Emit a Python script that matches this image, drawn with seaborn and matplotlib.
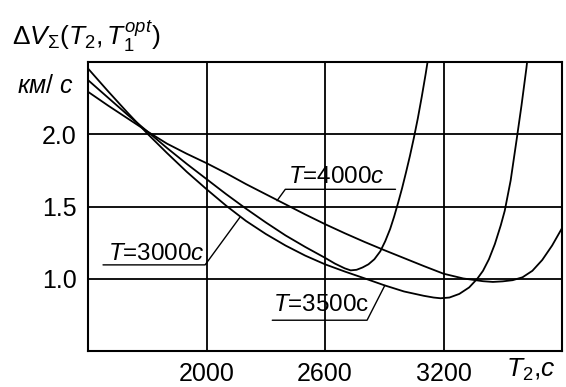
import matplotlib
matplotlib.use("Agg")
import matplotlib.pyplot as plt
import seaborn as sns
import pandas as pd

# Total velocity increment vs. second-impulse time for three transfer durations
t2_3000 = [1400, 1500, 1600, 1700, 1800, 1900, 2000, 2100, 2200, 2300, 2400, 2500,
           2600, 2650, 2700, 2730, 2760, 2790, 2820, 2850, 2880, 2905, 2930, 2950,
           2970, 2990, 3010, 3030, 3050, 3070, 3090, 3110, 3125]
dv_3000 = [2.375, 2.255, 2.135, 2.02, 1.905, 1.795, 1.69, 1.585, 1.485, 1.39, 1.30, 1.22,
           1.145, 1.105, 1.072, 1.058, 1.062, 1.078, 1.10, 1.135, 1.19, 1.26, 1.345, 1.43,
           1.525, 1.625, 1.735, 1.85, 1.975, 2.11, 2.26, 2.42, 2.55]

t2_3500 = [1400, 1500, 1600, 1700, 1800, 1900, 2000, 2100, 2200, 2300, 2400, 2500,
           2600, 2700, 2800, 2900, 3000, 3100, 3150, 3185, 3230, 3280, 3330, 3371,
           3400, 3430, 3460, 3490, 3510, 3540, 3570, 3595, 3620, 3630]
dv_3500 = [2.455, 2.30, 2.15, 2.005, 1.87, 1.74, 1.62, 1.505, 1.40, 1.31, 1.23, 1.16,
           1.10, 1.05, 1.003, 0.955, 0.912, 0.882, 0.87, 0.865, 0.87, 0.895, 0.94, 1.00,
           1.055, 1.135, 1.24, 1.37, 1.47, 1.68, 1.96, 2.20, 2.46, 2.58]

t2_4000 = [1400, 1500, 1600, 1700, 1800, 1900, 2000, 2100, 2200, 2300, 2400, 2500,
           2600, 2700, 2800, 2900, 3000, 3100, 3200, 3300, 3400, 3450, 3500, 3550,
           3600, 3650, 3700, 3750, 3800]
dv_4000 = [2.294, 2.20, 2.11, 2.02, 1.935, 1.865, 1.80, 1.73, 1.655, 1.585, 1.515, 1.445,
           1.378, 1.315, 1.255, 1.198, 1.143, 1.088, 1.035, 1.002, 0.983, 0.978, 0.982, 0.99,
           1.01, 1.055, 1.13, 1.23, 1.35]

x_ticks = [2000, 2600, 3200]
y_ticks = [1.0, 1.5, 2.0]
y_tick_labels = ["1.0", "1.5", "2.0"]

sns.set_theme(style="white")
plt.rcParams["font.family"] = ["Liberation Sans", "DejaVu Sans"]
plt.rcParams["mathtext.fontset"] = "custom"
plt.rcParams["mathtext.rm"] = "Liberation Sans"
plt.rcParams["mathtext.it"] = "Liberation Sans:italic"
plt.rcParams["mathtext.bf"] = "Liberation Sans:bold"

df = pd.concat([
    pd.DataFrame({"T2": t2_3000, "dV": dv_3000, "T": "3000"}),
    pd.DataFrame({"T2": t2_3500, "dV": dv_3500, "T": "3500"}),
    pd.DataFrame({"T2": t2_4000, "dV": dv_4000, "T": "4000"}),
])

fig = plt.figure(figsize=(5.66, 3.87), dpi=100)
ax = fig.add_axes([88 / 566, 1 - 351 / 387, (562 - 88) / 566, (351 - 62) / 387])

sns.lineplot(data=df, x="T2", y="dV", hue="T", palette=["black"] * 3,
             estimator=None, legend=False, linewidth=1.3, ax=ax, zorder=3)

ax.set_xlim(1400, 3800)
ax.set_ylim(0.5, 2.5)
ax.set_xticks(x_ticks)
ax.set_xticklabels([str(v) for v in x_ticks])
ax.set_yticks(y_ticks)
ax.set_yticklabels(y_tick_labels)
ax.tick_params(axis="both", length=0, labelsize=18, colors="black")
ax.tick_params(axis="x", pad=8)
ax.tick_params(axis="y", pad=8)
ax.grid(True, color="black", linewidth=1.3)
for s in ax.spines.values():
    s.set_color("black")
    s.set_linewidth(1.5)
ax.set_xlabel("")
ax.set_ylabel("")

# Curve labels with underline and leader
lab_kw = dict(fontsize=17.5, color="black", va="baseline", ha="left", zorder=5)
ax.text(1500, 1.131, r"$T$=3000$c$", **lab_kw)
ax.plot([1476, 1993, 2169], [1.096, 1.096, 1.425], color="black", lw=1.0, zorder=4)

ax.text(2412, 1.66, r"$T$=4000$c$", **lab_kw)
ax.plot([2957, 2399, 2357], [1.619, 1.619, 1.54], color="black", lw=1.0, zorder=4)

ax.text(2336, 0.78, r"$T$=3500c", **lab_kw)
ax.plot([2333, 2813, 2903], [0.713, 0.713, 0.954], color="black", lw=1.0, zorder=4)

# Axis captions
ax.text((506 - 88) / 474, (351 - 377) / 289, r"$T_2$,$c$", transform=ax.transAxes,
        fontsize=19, ha="left", va="baseline", color="black")
fig.text(12 / 566, 1 - 36 / 387, r"$\Delta V_{\Sigma}(T_2,T_1^{opt})$",
         fontsize=19, ha="left", va="center", color="black")
fig.text(17 / 566, 1 - 86 / 387, r"$км/\ с$", fontsize=18, ha="left",
         va="center", color="black")

fig.savefig("out.png", dpi=100)
